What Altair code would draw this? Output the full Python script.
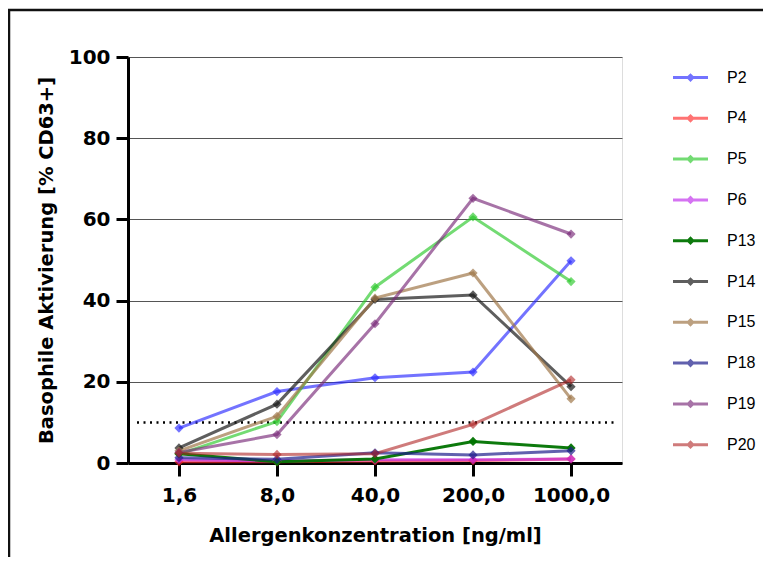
import altair as alt
import pandas as pd

concentrations = ["1,6", "8,0", "40,0", "200,0", "1000,0"]
series = ["P2", "P4", "P5", "P6", "P13", "P14", "P15", "P18", "P19", "P20"]
colors = ["rgba(40,40,255,0.65)", "rgba(255,40,40,0.65)", "rgba(40,200,40,0.65)",
          "rgba(190,40,235,0.65)", "rgba(0,115,0,0.95)", "rgba(25,25,25,0.7)",
          "rgba(160,120,74,0.7)", "rgba(30,30,140,0.7)", "rgba(120,40,120,0.65)",
          "rgba(175,35,35,0.6)"]

P2 = [8.6, 17.6, 21.0, 22.4, 49.8]
P4 = [0.3, 0.3, 0.5, 0.6, 1.0]
P5 = [2.2, 10.2, 43.3, 60.6, 44.7]
P6 = [0.8, 0.5, 0.8, 0.8, 1.0]
P13 = [2.3, 0.3, 1.0, 5.3, 3.7]
P14 = [3.7, 14.5, 40.3, 41.4, 18.8]
P15 = [3.0, 11.5, 40.6, 46.8, 15.8]
P18 = [1.3, 0.9, 2.5, 2.0, 3.0]
P19 = [2.6, 7.0, 34.3, 65.2, 56.4]
P20 = [2.4, 2.1, 2.3, 9.5, 20.5]
values = [P2, P4, P5, P6, P13, P14, P15, P18, P19, P20]

threshold = [10]
y_ticks = [0, 20, 40, 60, 80, 100]

rows = []
for name, vals in zip(series, values):
    for c, v in zip(concentrations, vals):
        rows.append({"series": name, "conc": c, "value": v})
df = pd.DataFrame(rows)

FONT = "DejaVu Sans"

x_enc = alt.X(
    "conc:N", sort=concentrations,
    scale=alt.Scale(type="point", padding=0.52),
    axis=alt.Axis(
        title="Allergenkonzentration [ng/ml]", labelAngle=0,
        labelFont=FONT, labelFontSize=20, labelFontWeight="bold", labelColor="black",
        labelPadding=9, tickSize=13, tickWidth=3, tickColor="black",
        domainColor="black", domainWidth=3, grid=False,
        titleFont=FONT, titleFontSize=19.5, titleFontWeight="bold", titleColor="black",
        titlePadding=21,
    ),
)
y_enc = alt.Y(
    "value:Q",
    scale=alt.Scale(domain=[0, 100], nice=False, zero=True),
    axis=alt.Axis(
        title="Basophile Aktivierung [% CD63+]", values=y_ticks,
        labelFont=FONT, labelFontSize=20, labelFontWeight="bold", labelColor="black",
        labelPadding=6, tickSize=12, tickWidth=3, tickColor="black",
        domainColor="black", domainWidth=3,
        grid=True, gridColor="#555555", gridWidth=1,
        titleFont=FONT, titleFontSize=19.5, titleFontWeight="bold", titleColor="black",
        titlePadding=12,
    ),
)
color_scale = alt.Scale(domain=series, range=colors)

legend_path = ("M-1,-0.085L1,-0.085L1,0.085L-1,0.085Z"
               "M0,-0.25L0.25,0L0,0.25L-0.25,0Z")
legend = alt.Legend(
    title=None, orient="none", legendX=545, legendY=3,
    symbolType=legend_path, symbolSize=1225, symbolStrokeWidth=0,
    labelFont="Liberation Sans", labelFontSize=16, labelColor="black",
    labelOffset=19, rowPadding=14.8,
)
color_enc = alt.Color("series:N", sort=series, scale=color_scale, legend=legend)

lines = alt.Chart(df).mark_line(strokeWidth=3).encode(
    x=x_enc, y=y_enc, color=color_enc, detail="series:N",
)
points = alt.Chart(df).mark_point(shape="diamond", filled=True, size=85, opacity=1).encode(
    x=x_enc, y=y_enc, color=color_enc,
)

dotted = alt.Chart(pd.DataFrame({"t": threshold})).mark_rule(
    color="black", strokeWidth=2.5, strokeDash=[2, 4.5]
).encode(y=alt.Y("t:Q"), x=alt.value(9), x2=alt.value(486))

frame = alt.Chart(pd.DataFrame({"t": threshold})).mark_rect(
    fillOpacity=0, stroke="#111111", strokeWidth=2.5, clip=False
).encode(x=alt.value(-119), x2=alt.value(700), y=alt.value(-47), y2=alt.value(560))

chart = alt.layer(frame, dotted, lines, points).properties(
    width=494, height=406,
    autosize=alt.AutoSizeParams(type="none"),
    padding={"left": 120, "top": 49, "right": 141, "bottom": 94},
).configure_view(stroke=None).configure(background="white")

chart.save("out.html", embed_options={"renderer": "svg", "actions": False})
